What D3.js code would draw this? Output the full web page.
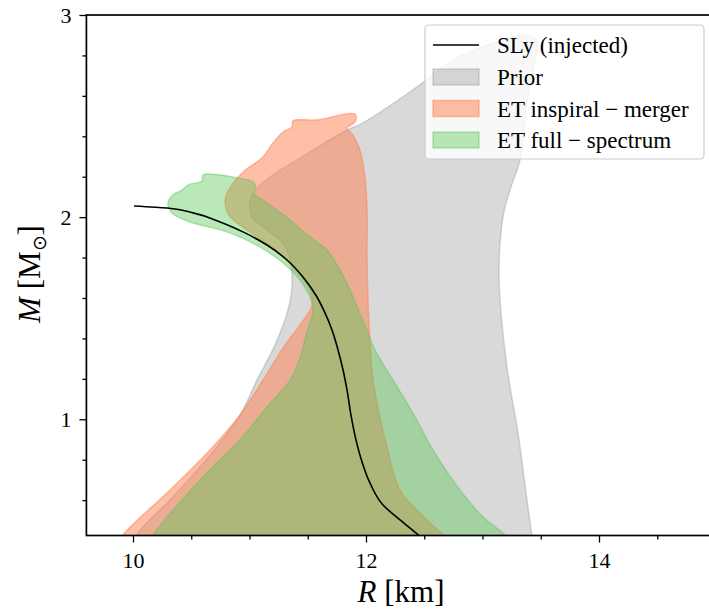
<!DOCTYPE html>
<html>
<head>
<meta charset="utf-8">
<script src="https://cdn.jsdelivr.net/npm/d3@7"></script>
<style>
  html, body { margin: 0; padding: 0; background: #fff; }
  svg { display: block; }
</style>
</head>
<body>
<svg id="chart" width="709" height="610"></svg>
<script>
// ---------------- data (R [km], M [Msun]) ----------------
const slyCurve = [
  [10.009, 2.055], [10.292, 2.045], [10.515, 2.021], [10.747, 1.976], [10.944, 1.927],
  [11.15, 1.862], [11.322, 1.788], [11.459, 1.704], [11.579, 1.605], [11.648, 1.526],
  [11.708, 1.442], [11.76, 1.343], [11.803, 1.244], [11.837, 1.145], [11.871, 1.021],
  [11.914, 0.898], [11.966, 0.789], [12.034, 0.685], [12.146, 0.576], [12.292, 0.502],
  [12.438, 0.433], [12.549, 0.378]
];

const priorRegion = [
  [10.034, 0.38], [10.034, 0.428], [10.318, 0.601], [10.661, 0.823], [10.918, 1.021],
  [11.064, 1.194], [11.219, 1.368], [11.33, 1.541], [11.365, 1.664], [11.348, 1.788],
  [11.288, 1.872], [11.15, 1.936], [11.021, 2.001], [11.004, 2.085], [11.03, 2.119],
  [11.176, 2.199], [11.408, 2.283], [11.837, 2.431], [11.974, 2.466], [12.438, 2.644],
  [12.747, 2.777], [13.124, 2.866], [13.365, 2.901], [13.468, 2.876], [13.433, 2.728],
  [13.382, 2.565], [13.322, 2.283], [13.236, 2.134], [13.176, 2.001], [13.142, 1.704],
  [13.21, 1.259], [13.305, 0.932], [13.382, 0.601], [13.425, 0.428], [13.442, 0.38]
];

const inspiralRegion = [
  [9.871, 0.38], [9.914, 0.428], [10.318, 0.65], [10.661, 0.848], [10.918, 1.021],
  [11.116, 1.194], [11.305, 1.368], [11.433, 1.466], [11.536, 1.565], [11.519, 1.64],
  [11.433, 1.714], [11.288, 1.803], [11.064, 1.902], [10.944, 1.951], [10.833, 2.001],
  [10.79, 2.07], [10.807, 2.119], [10.936, 2.218], [11.116, 2.298], [11.202, 2.367],
  [11.288, 2.421], [11.365, 2.446], [11.373, 2.476], [11.579, 2.481], [11.906, 2.51],
  [11.906, 2.471], [11.837, 2.441], [11.888, 2.406], [11.948, 2.332], [11.991, 2.199],
  [12.009, 2.035], [12.009, 1.788], [12.017, 1.59], [12.034, 1.392], [12.06, 1.194],
  [12.18, 0.863], [12.292, 0.65], [12.464, 0.536], [12.661, 0.428], [12.738, 0.38]
];

const fullSpectrumRegion = [
  [10.129, 0.38], [10.172, 0.428], [10.575, 0.7], [10.918, 0.898], [11.15, 1.061],
  [11.348, 1.194], [11.433, 1.303], [11.485, 1.417], [11.545, 1.541], [11.519, 1.605],
  [11.433, 1.689], [11.288, 1.773], [11.09, 1.852], [10.807, 1.927], [10.489, 1.976],
  [10.335, 2.021], [10.3, 2.07], [10.343, 2.11], [10.421, 2.134], [10.472, 2.159],
  [10.592, 2.179], [10.601, 2.209], [10.901, 2.194], [11.03, 2.174], [11.056, 2.149],
  [11.03, 2.124], [11.15, 2.07], [11.348, 1.986], [11.519, 1.902], [11.665, 1.837],
  [11.777, 1.739], [11.863, 1.64], [11.923, 1.556], [11.991, 1.466], [12.077, 1.343],
  [12.232, 1.194], [12.403, 1.031], [12.575, 0.848], [12.807, 0.65], [13.004, 0.517],
  [13.193, 0.428], [13.253, 0.38]
];

const xMajorTicks = [10, 12, 14];
const xMinorTicks = [10.5, 11, 11.5, 12.5, 13, 13.5, 14.5];
const yMajorTicks = [1, 2, 3];
const yMinorTicks = [0.6, 0.8, 1.2, 1.4, 1.6, 1.8, 2.2, 2.4, 2.6, 2.8];

const legendLabels = ["SLy (injected)", "Prior", "ET inspiral \u2212 merger", "ET full \u2212 spectrum"];
const regionColors = ["rgb(128,128,128)", "rgb(255,127,80)", "rgb(85,197,80)"];
const regionAlphas = [0.3, 0.5, 0.4];

// ---------------- layout ----------------
const FONT = "'Liberation Serif'";
const svg = d3.select("#chart");
const xs = d3.scaleLinear().domain([9.6, 15]).range([86.4, 715.5]);
const ys = d3.scaleLinear().domain([0.425, 3]).range([535.5, 15]);
const [x0, x1] = xs.range();
const [yb, yt] = ys.range();

svg.append("defs").append("clipPath").attr("id", "plotclip")
  .append("rect").attr("x", x0).attr("y", yt).attr("width", x1 - x0).attr("height", yb - yt);

const plot = svg.append("g").attr("clip-path", "url(#plotclip)");

const areaPath = d3.line().x(d => xs(d[0])).y(d => ys(d[1])).curve(d3.curveCatmullRomClosed.alpha(0.5));
const regions = [priorRegion, inspiralRegion, fullSpectrumRegion];
regions.forEach((reg, i) => {
  plot.append("path")
    .attr("d", areaPath(reg))
    .attr("fill", regionColors[i]).attr("fill-opacity", regionAlphas[i])
    .attr("stroke", regionColors[i]).attr("stroke-opacity", regionAlphas[i])
    .attr("stroke-width", 1.5).attr("stroke-linejoin", "round");
});

const linePath = d3.line().x(d => xs(d[0])).y(d => ys(d[1])).curve(d3.curveMonotoneY);
plot.append("path").attr("d", linePath(slyCurve))
  .attr("fill", "none").attr("stroke", "#000").attr("stroke-width", 1.6);

// ---------------- axes ----------------
const fontTick = 22;
const gx = svg.append("g").attr("transform", `translate(0,${yb})`);
gx.call(d3.axisBottom(xs).tickValues(xMajorTicks).tickSize(7).tickFormat(d3.format("d")));
const gxm = svg.append("g").attr("transform", `translate(0,${yb})`);
gxm.call(d3.axisBottom(xs).tickValues(xMinorTicks).tickSize(4).tickFormat(""));

const gy = svg.append("g").attr("transform", `translate(${x0},0)`);
gy.call(d3.axisLeft(ys).tickValues(yMajorTicks).tickSize(7).tickPadding(8).tickFormat(d3.format("d")));
const gym = svg.append("g").attr("transform", `translate(${x0},0)`);
gym.call(d3.axisLeft(ys).tickValues(yMinorTicks).tickSize(4).tickFormat(""));

[gx, gxm, gy, gym].forEach(g => {
  g.attr("font-family", FONT);
  g.select(".domain").remove();
  g.selectAll(".tick line").attr("stroke", "#000").attr("stroke-width", 1.3);
  g.selectAll(".tick text").attr("font-family", FONT).attr("font-size", fontTick).attr("fill", "#000");
});
gx.selectAll(".tick text").attr("dy", null).attr("y", 32.5);

// frame
svg.append("rect").attr("x", x0).attr("y", yt).attr("width", x1 - x0).attr("height", yb - yt)
  .attr("fill", "none").attr("stroke", "#000").attr("stroke-width", 1.7);

// axis labels
const xl = svg.append("text").attr("x", 401).attr("y", 602).attr("text-anchor", "middle")
  .attr("font-family", FONT).attr("font-size", 31).attr("fill", "#000");
xl.append("tspan").attr("font-style", "italic").text("R");
xl.append("tspan").text(" [km]");

const yl = svg.append("text").attr("transform", "translate(40,274) rotate(-90)").attr("text-anchor", "middle")
  .attr("font-family", FONT).attr("font-size", 31).attr("fill", "#000");
yl.append("tspan").attr("font-style", "italic").text("M");
yl.append("tspan").text(" [M");
yl.append("tspan").attr("font-size", 19).attr("dy", 6).text("\u2299");
yl.append("tspan").attr("dy", -6).text("]");

// ---------------- legend ----------------
const lg = svg.append("g");
lg.append("rect").attr("x", 425).attr("y", 25).attr("width", 279).attr("height", 134)
  .attr("rx", 4).attr("fill", "#fff").attr("fill-opacity", 0.8)
  .attr("stroke", "#cccccc").attr("stroke-width", 1.2);
const rowY = [45, 77, 108.5, 140];
lg.append("line").attr("x1", 433).attr("x2", 479).attr("y1", rowY[0]).attr("y2", rowY[0])
  .attr("stroke", "#000").attr("stroke-width", 1.6);
regionColors.forEach((c, i) => {
  lg.append("rect").attr("x", 433).attr("y", rowY[i + 1] - 8).attr("width", 46).attr("height", 16)
    .attr("fill", c).attr("fill-opacity", regionAlphas[i])
    .attr("stroke", c).attr("stroke-opacity", regionAlphas[i]).attr("stroke-width", 1.5);
});
legendLabels.forEach((t, i) => {
  lg.append("text").attr("x", 497).attr("y", rowY[i] + 8).attr("font-family", FONT)
    .attr("font-size", 23).attr("fill", "#000").text(t);
});
</script>
</body>
</html>
